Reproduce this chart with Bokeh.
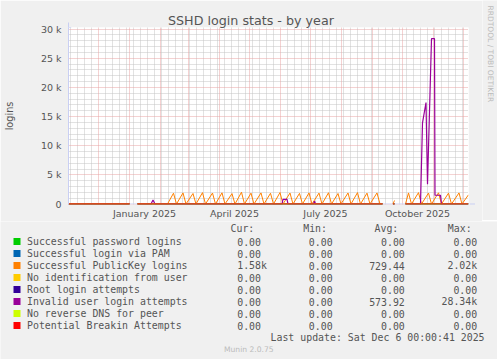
import numpy as np
import pandas as pd
from bokeh.plotting import figure
from bokeh.layouts import column, row
from bokeh.models import FixedTicker, Grid, Arrow, NormalHead, Range1d, Span
from bokeh.core.properties import value
from bokeh.embed import file_html
from bokeh.resources import INLINE

# ---------------- data ----------------
title = "SSHD login stats - by year"
y_label = "logins"
x_start = "2024-11-01 00:00:00"
x_end = "2025-12-06 00:00:41"

x_tick_dates = ["2025-01-16", "2025-04-16", "2025-07-16", "2025-10-16"]
x_tick_labels = ["January 2025", "April 2025", "July 2025", "October 2025"]
y_ticks = [0, 5000, 10000, 15000, 20000, 25000, 30000]
y_tick_labels = ["0", "5 k", "10 k", "15 k", "20 k", "25 k", "30 k"]

series_names = ["Successful password logins", "Successful login via PAM",
                "Successful PublicKey logins", "No identification from user",
                "Root login attempts", "Invalid user login attempts",
                "No reverse DNS for peer", "Potential Breakin Attempts"]
series_colors = ["#00CC00", "#0066B3", "#FF8000", "#FFCC00",
                 "#330099", "#990099", "#CCFF00", "#FF0000"]
col_headers = ["Cur:", "Min:", "Avg:", "Max:"]
cur_vals = ["0.00", "0.00", "1.58k", "0.00", "0.00", "0.00", "0.00", "0.00"]
min_vals = ["0.00", "0.00", "0.00", "0.00", "0.00", "0.00", "0.00", "0.00"]
avg_vals = ["0.00", "0.00", "729.44", "0.00", "0.00", "573.92", "0.00", "0.00"]
max_vals = ["0.00", "0.00", "2.02k", "0.00", "0.00", "28.34k", "0.00", "0.00"]
last_update = "Last update: Sat Dec  6 00:00:41 2025"
footer = "Munin 2.0.75"
watermark = "RRDTOOL / TOBI OETIKER"

# periods with data (series that stay at zero)
zero_spans = [("2024-11-01", "2025-01-01"), ("2025-01-09", "2025-09-11"),
              ("2025-09-21 12:00", "2025-09-23"), ("2025-10-04", "2025-12-06")]

# Successful PublicKey logins (None = no data)
pk_dates = ["2024-11-01", "2025-01-01", "2025-01-01", "2025-01-09", "2025-02-08",
            "2025-02-14", "2025-02-17", "2025-02-23 12:00", "2025-02-26 12:00",
            "2025-03-05 12:00", "2025-03-08 12:00", "2025-03-15", "2025-03-18",
            "2025-03-25", "2025-03-28", "2025-04-03 12:00", "2025-04-06 12:00",
            "2025-04-13 12:00", "2025-04-16 12:00", "2025-04-23", "2025-04-26",
            "2025-05-02 12:00", "2025-05-05 12:00", "2025-05-12 12:00", "2025-05-15 12:00",
            "2025-05-22", "2025-05-25", "2025-05-31 12:00", "2025-06-03 12:00",
            "2025-06-10 12:00", "2025-06-13 12:00", "2025-06-20", "2025-06-23",
            "2025-06-29 12:00", "2025-07-02 12:00", "2025-07-09 12:00", "2025-07-12 12:00",
            "2025-07-19", "2025-07-22", "2025-07-28 12:00", "2025-07-31 12:00",
            "2025-08-07 12:00", "2025-08-10 12:00", "2025-08-17", "2025-08-20",
            "2025-08-26 12:00", "2025-08-29 12:00", "2025-09-05 12:00", "2025-09-08 12:00",
            "2025-09-11", "2025-09-11",
            "2025-09-21 12:00", "2025-09-23", "2025-09-23",
            "2025-10-04", "2025-10-07", "2025-10-10", "2025-10-17", "2025-10-20",
            "2025-10-27", "2025-10-30", "2025-11-06", "2025-11-09", "2025-11-16",
            "2025-11-19", "2025-11-26 12:00", "2025-11-29 12:00", "2025-12-06"]
pk_vals = [0, 0, None, 0, 0,
           1850, 0, 1900, 0,
           1800, 0, 1950, 0,
           1880, 0, 1920, 0,
           1780, 0, 2020, 0,
           1860, 0, 1900, 0,
           1840, 0, 1960, 0,
           1880, 0, 1820, 0,
           1900, 0, 1870, 0,
           1930, 0, 1800, 0,
           1890, 0, 1950, 0,
           1860, 0, 1900, 0,
           0, None,
           0, 600, None,
           0, 1900, 0, 1950, 0,
           1880, 0, 1920, 0, 1860,
           0, 1900, 0, 1580]

# Invalid user login attempts
inv_dates = ["2024-11-01", "2025-01-01", "2025-01-01", "2025-01-09",
             "2025-01-22 12:00", "2025-01-24 12:00", "2025-01-26 12:00",
             "2025-06-02 12:00", "2025-06-03 12:00", "2025-06-07 12:00", "2025-06-08 12:00",
             "2025-07-04", "2025-07-05", "2025-07-06", "2025-09-11", "2025-09-11",
             "2025-09-21 12:00", "2025-09-23", "2025-09-23",
             "2025-10-04", "2025-10-19", "2025-10-21", "2025-10-24 12:00", "2025-10-26",
             "2025-10-30", "2025-11-02", "2025-11-02 12:00", "2025-11-08", "2025-11-09",
             "2025-12-06"]
inv_vals = [0, 0, None, 0,
            0, 700, 0,
            0, 800, 800, 0,
            0, 500, 0, 0, None,
            0, 0, None,
            0, 0, 13900, 17400, 3400,
            28340, 28340, 1500, 1500, 0,
            0]

# ---------------- styling ----------------
W = 497
WS = 17                      # width of the watermark strip on the right
H1, H2 = 220, 139            # chart part / legend part
FL, FT, FW, FH = 66, 27, 400, 177
BG = "#F0F0F0"
AXIS = "#C9CFF3"
FONT = "#555555"
SANS = "DejaVu Sans"
MONO = "DejaVu Sans Mono"
YMAX = 30000
PXY = YMAX / 175.0           # value units per pixel


def ms(s):
    return pd.Timestamp(s).timestamp() * 1000.0


def to_xy(dates, vals):
    x = np.array([ms(d) for d in dates], dtype=float)
    y = np.array([np.nan if v is None else v for v in vals], dtype=float)
    return x, y


p = figure(frame_width=FW, frame_height=FH, x_axis_type="datetime", output_backend="svg",
           toolbar_location=None, frame_align=False,
           x_range=Range1d(ms(x_start), ms(x_end)),
           y_range=Range1d(-0.5 * PXY, YMAX + 1.5 * PXY),
           min_border_left=FL, min_border_top=FT,
           min_border_right=W - WS - FL - FW, min_border_bottom=H1 - FT - FH)
p.background_fill_color = "white"
p.border_fill_color = BG
p.outline_line_color = None

# title (native title in the panel above the frame)
p.title.text = title
p.title.text_font = SANS
p.title.text_font_size = "12.7px"
p.title.text_font_style = "normal"
p.title.text_color = FONT
p.title.align = "left"
p.title.offset = 99.5
p.title.standoff = 0
p.title.vertical_align = "bottom"

# axes
for ax in (p.xaxis, p.yaxis):
    ax.axis_line_color = AXIS
    ax.major_tick_line_color = None
    ax.minor_tick_line_color = None
    ax.major_tick_out = 0
    ax.major_tick_in = 0
    ax.minor_tick_out = 0
    ax.minor_tick_in = 0
    ax.major_label_text_font = SANS
    ax.major_label_text_font_size = "9.5px"
    ax.major_label_text_color = FONT
p.xaxis.axis_line_color = None
p.xaxis.ticker = FixedTicker(ticks=[ms(d) for d in x_tick_dates])
p.xaxis.major_label_overrides = {int(ms(d)): l for d, l in zip(x_tick_dates, x_tick_labels)}
p.xaxis.major_label_standoff = 3
p.yaxis.ticker = FixedTicker(ticks=y_ticks)
p.yaxis.major_label_overrides = {t: l for t, l in zip(y_ticks, y_tick_labels)}
p.yaxis.major_label_standoff = 7
p.yaxis.axis_label = y_label
p.yaxis.axis_label_text_font = SANS
p.yaxis.axis_label_text_font_size = "9.7px"
p.yaxis.axis_label_text_font_style = "normal"
p.yaxis.axis_label_text_color = FONT
p.yaxis.axis_label_standoff = 23

# grids
months = pd.date_range("2024-11-01", "2025-12-06", freq="MS")
weeks = [w for w in pd.date_range("2024-11-03", "2025-12-06", freq="W-SUN") if w.day != 1]
minor_y = [v for v in range(0, YMAX + 1, 1000) if v % 5000]
p.xgrid.visible = False
p.ygrid.visible = False
for dim, ticks, color in ((0, [ms(w) for w in weeks], "#C4C4C4"),
                          (1, minor_y, "#C4C4C4"),
                          (0, [ms(m) for m in months], "#E8A4A4"),
                          (1, y_ticks, "#E8A4A4")):
    p.add_layout(Grid(dimension=dim, ticker=FixedTicker(ticks=ticks),
                      grid_line_color=color, grid_line_dash="1 1", grid_line_width=1))
p.add_layout(Span(location=0, dimension="width", line_color=AXIS, line_width=1, level="underlay"))

# axis arrows
px_x = (ms(x_end) - ms(x_start)) / FW
p.add_layout(Arrow(end=NormalHead(size=5, fill_color=AXIS, line_color=AXIS),
                   x_start=ms(x_start), y_start=YMAX + 1.5 * PXY, x_end=ms(x_start), y_end=YMAX + 6.5 * PXY,
                   line_color=AXIS, line_width=1))
p.add_layout(Arrow(end=NormalHead(size=5, fill_color=AXIS, line_color=AXIS),
                   x_start=ms(x_end), y_start=0, x_end=ms(x_end) + 6.5 * px_x, y_end=0,
                   line_color=AXIS, line_width=1))

# series
zd, zv = [], []
for a, b in zero_spans:
    zd += [a, b, b]
    zv += [0, 0, None]
zx, zy = to_xy(zd, zv)
pkx, pky = to_xy(pk_dates, pk_vals)
ivx, ivy = to_xy(inv_dates, inv_vals)
for name, color in zip(series_names, series_colors):
    if name == "Successful PublicKey logins":
        x, y = pkx, pky
    elif name == "Invalid user login attempts":
        x, y = ivx, ivy
    else:
        x, y = zx, zy
    p.line(x, y, line_color=color, line_width=1.2 if color == "#990099" else 1)

# ---------------- watermark strip (pixel coordinates) ----------------
s = figure(width=WS, height=H1, output_backend="svg", toolbar_location=None, frame_align=False,
           x_range=Range1d(W - WS, W), y_range=Range1d(H1, 0),
           x_axis_location=None, y_axis_location=None,
           min_border_left=0, min_border_right=0, min_border_top=0, min_border_bottom=0)
s.background_fill_color = BG
s.border_fill_color = BG
s.outline_line_color = None
s.xgrid.visible = False
s.ygrid.visible = False
s.text(x=[488.3], y=[5], text=[watermark], angle=-np.pi / 2,
       text_font=value(SANS), text_font_size="7.5px", text_color="#BBBBBB",
       text_align="left", text_baseline="middle")

# ---------------- legend table (second panel, pixel coordinates) ----------------
q = figure(width=W, height=H2, output_backend="svg", toolbar_location=None, frame_align=False,
           x_range=Range1d(0, W), y_range=Range1d(H1 + H2, H1),
           x_axis_location=None, y_axis_location=None,
           min_border_left=0, min_border_right=0, min_border_top=0, min_border_bottom=0)
q.background_fill_color = BG
q.border_fill_color = BG
q.outline_line_color = None
q.xgrid.visible = False
q.ygrid.visible = False

ROW0, ROWH = 240, 12
rows = [ROW0 + ROWH * i for i in range(len(series_names))]


def texts(xs, ys, strs, align, size="9.9px", font=MONO, color=FONT):
    q.text(x=xs, y=ys, text=strs, text_font=value(font), text_font_size=size,
           text_color=color, text_align=align, text_baseline="middle")


texts([230, 302.7, 374, 447.3], [227] * 4, col_headers, "left")
q.rect(x=[16.5] * len(rows), y=rows, width=7, height=7, fill_color=series_colors, line_color=None)
texts([26.5] * len(rows), rows, series_names, "left")
texts([236.7] * len(rows), rows, cur_vals, "left")
texts([308.3] * len(rows), rows, min_vals, "left")
texts([404.3] * len(rows), rows, avg_vals, "right")
texts([476.7] * len(rows), rows, max_vals, "right")
texts([490], [336], [last_update], "right")
texts([248.3], [348], [footer], "center", size="7.6px", font=SANS, color="#BBBBBB")

layout = column(row(p, s, spacing=0), q, spacing=0)
open("out.html", "w").write(file_html(layout, INLINE))
